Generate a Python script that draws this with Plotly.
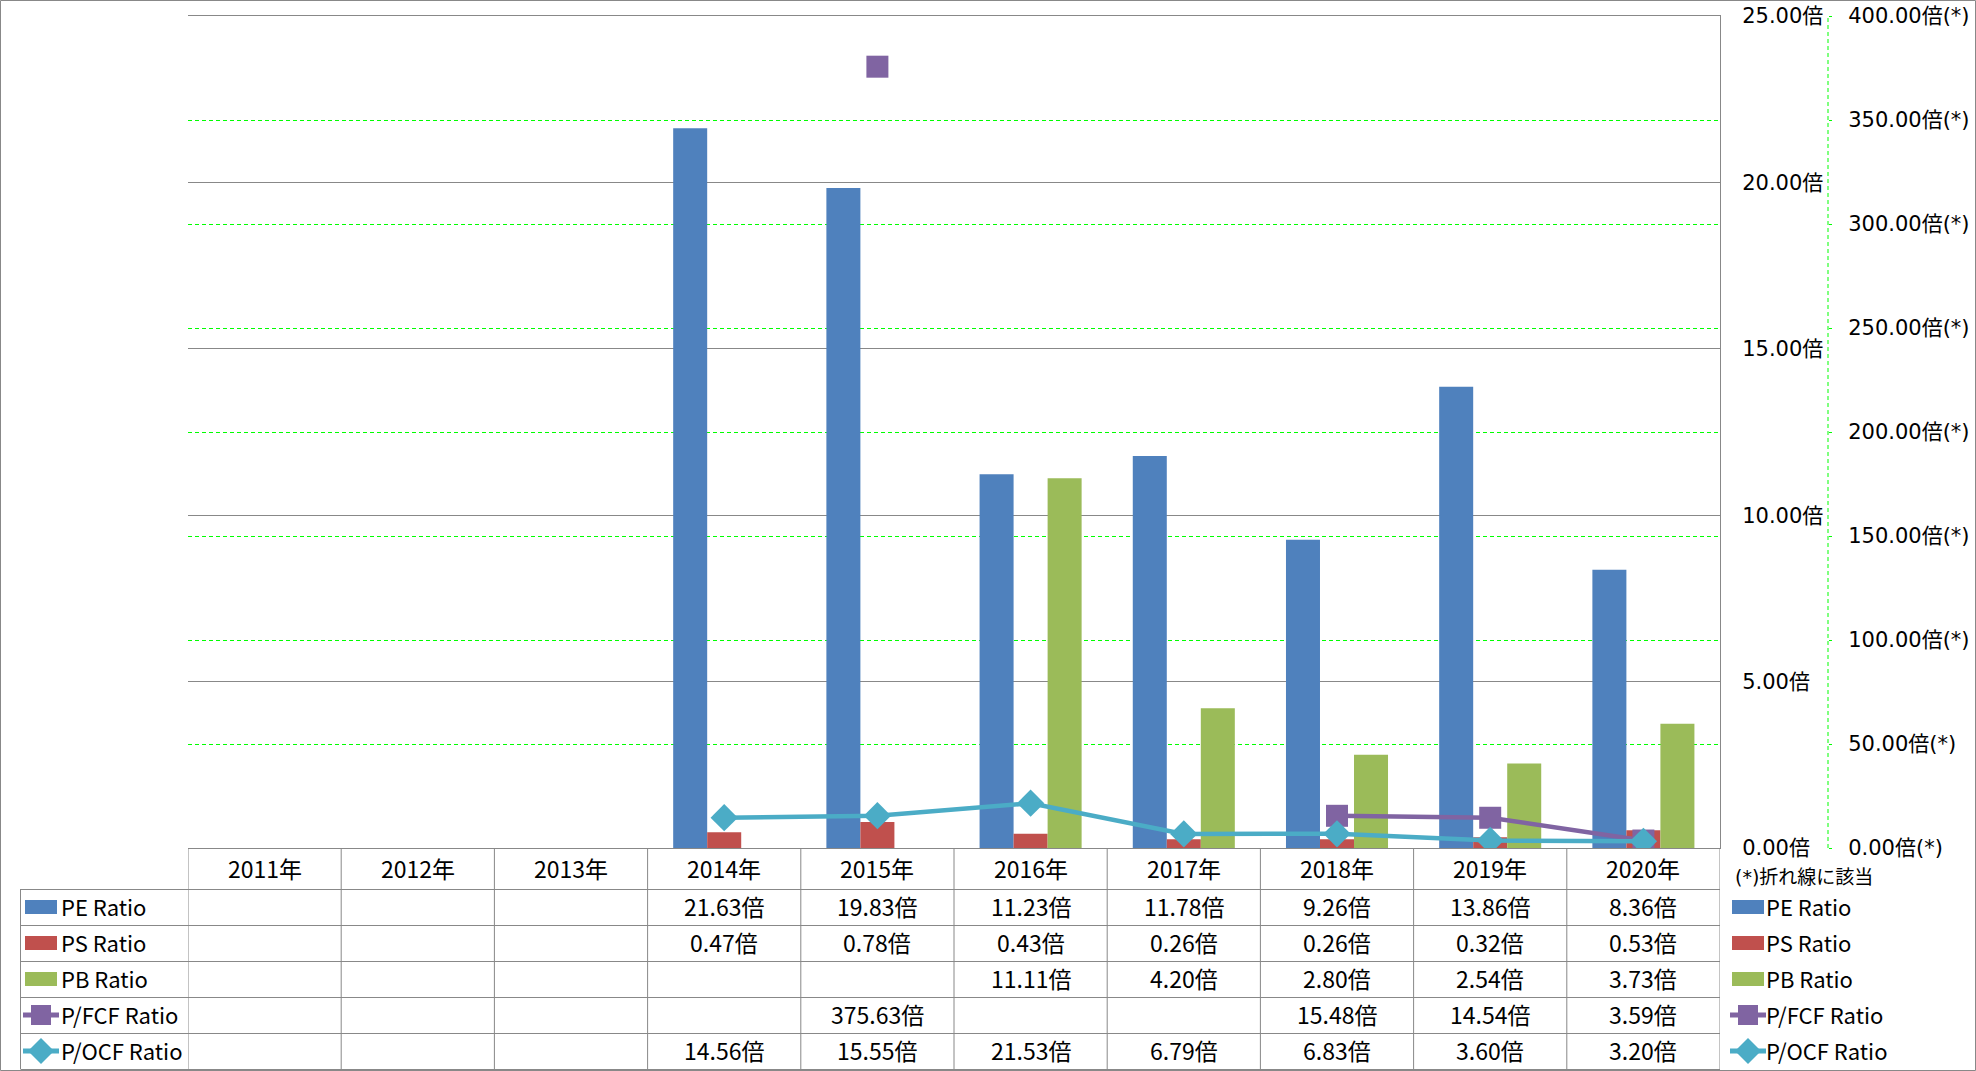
import plotly.graph_objects as go

# ---------------- data ----------------
years = ["2011年", "2012年", "2013年", "2014年", "2015年", "2016年", "2017年", "2018年", "2019年", "2020年"]
pe_ratio = [None, None, None, 21.63, 19.83, 11.23, 11.78, 9.26, 13.86, 8.36]
ps_ratio = [None, None, None, 0.47, 0.78, 0.43, 0.26, 0.26, 0.32, 0.53]
pb_ratio = [None, None, None, None, None, 11.11, 4.20, 2.80, 2.54, 3.73]
pfcf_ratio = [None, None, None, None, 375.63, None, None, 15.48, 14.54, 3.59]
pocf_ratio = [None, None, None, 14.56, 15.55, 21.53, 6.79, 6.83, 3.60, 3.20]

primary_ticks = [0, 5, 10, 15, 20, 25]
secondary_ticks = [0, 50, 100, 150, 200, 250, 300, 350, 400]
primary_ticktext = [f"{v:.2f}倍" for v in primary_ticks]
secondary_ticktext = [f"{v:.2f}倍(*)" for v in secondary_ticks]

series_names = ["PE Ratio", "PS Ratio", "PB Ratio", "P/FCF Ratio", "P/OCF Ratio"]
series_values = [pe_ratio, ps_ratio, pb_ratio, pfcf_ratio, pocf_ratio]
series_colors = ["#4F81BD", "#C0504D", "#9BBB59", "#8064A2", "#4BACC6"]
series_kind = ["bar", "bar", "bar", "square", "diamond"]
note_text = "(*)折れ線に該当"

# ---------------- layout geometry ----------------
W, H = 1976, 1071
PL, PR_PLOT, PR_AX2, PT, PB = 188, 1720, 1828, 16, 848
GRID = "#888888"
AXFONT = "DejaVu Sans, Noto Sans CJK JP, sans-serif"
TBFONT = "Noto Sans CJK JP, DejaVu Sans, sans-serif"
TBSIZE = 23
LGSIZE = 22


def px2x(px):
    return (px - PL) / (PR_AX2 - PL)


def py2y(py):
    return (PB - py) / (PB - PT)


fig = go.Figure()

for name, vals, col, kind in zip(series_names, series_values, series_colors, series_kind):
    if kind == "bar":
        fig.add_trace(go.Bar(x=years, y=vals, name=name, marker=dict(color=col, line=dict(width=0)),
                             yaxis="y", showlegend=False))
    else:
        fig.add_trace(go.Scatter(x=years, y=vals, name=name, mode="lines+markers", yaxis="y2",
                                 connectgaps=False, showlegend=False,
                                 line=dict(color=col, width=4.5),
                                 marker=dict(symbol=kind, size=22 if kind == "square" else 21, color=col,
                                             line=dict(width=0))))

shapes = []
annotations = []

# dashed secondary axis line
shapes.append(dict(type="line", xref="paper", yref="paper", x0=1, x1=1, y0=0, y1=1,
                   line=dict(color="#00FF00", width=1, dash="4px,3px")))

# table geometry
rows = [848, 889, 925, 961, 997, 1033, 1069]
LEG_L = 20.5
for i in range(len(years) + 1):
    shapes.append(dict(type="line", xref="x", yref="paper", x0=i - 0.5, x1=i - 0.5,
                       y0=py2y(rows[0]), y1=py2y(rows[-1]), line=dict(color=GRID, width=1)))
shapes.append(dict(type="line", xref="paper", yref="paper", x0=px2x(LEG_L), x1=px2x(LEG_L),
                   y0=py2y(rows[1]), y1=py2y(rows[-1]), line=dict(color=GRID, width=1)))
for r in rows[1:]:
    shapes.append(dict(type="line", xref="paper", yref="paper", x0=px2x(LEG_L), x1=px2x(PR_PLOT),
                       y0=py2y(r + 0.5), y1=py2y(r + 0.5), line=dict(color=GRID, width=1)))

# outer border
shapes.append(dict(type="rect", xref="paper", yref="paper", x0=px2x(0.5), x1=px2x(W - 0.5),
                   y0=py2y(0.5), y1=py2y(H - 0.5), line=dict(color=GRID, width=1)))

# header labels
hc = (rows[0] + rows[1]) / 2 - 1
for yr in years:
    annotations.append(dict(x=yr, xref="x", y=py2y(hc), yref="paper", text=yr, showarrow=False,
                            xanchor="center", yanchor="middle",
                            font=dict(size=TBSIZE, family=TBFONT, color="black")))

# cell values
for k, vals in enumerate(series_values):
    rc = (rows[k + 1] + rows[k + 2]) / 2 - 1
    for yr, v in zip(years, vals):
        if v is None:
            continue
        annotations.append(dict(x=yr, xref="x", y=py2y(rc), yref="paper", text=f"{v:.2f}倍",
                                showarrow=False, xanchor="center", yanchor="middle",
                                font=dict(size=TBSIZE, family=TBFONT, color="black")))


def legend_symbol(xl, xr, cy, col, kind):
    cx = (xl + xr) / 2
    if kind == "bar":
        shapes.append(dict(type="rect", xref="paper", yref="paper", x0=px2x(xl), x1=px2x(xr),
                           y0=py2y(cy - 7), y1=py2y(cy + 7), line=dict(width=0), fillcolor=col))
    else:
        shapes.append(dict(type="line", xref="paper", yref="paper", x0=px2x(xl - 2), x1=px2x(xr + 2),
                           y0=py2y(cy), y1=py2y(cy), line=dict(color=col, width=5)))
        if kind == "square":
            shapes.append(dict(type="rect", xref="paper", yref="paper", x0=px2x(cx - 10), x1=px2x(cx + 10),
                               y0=py2y(cy - 10), y1=py2y(cy + 10), line=dict(width=0), fillcolor=col))
        else:
            path = (f"M {px2x(cx - 13)} {py2y(cy)} L {px2x(cx)} {py2y(cy - 13)} "
                    f"L {px2x(cx + 13)} {py2y(cy)} L {px2x(cx)} {py2y(cy + 13)} Z")
            shapes.append(dict(type="path", xref="paper", yref="paper", path=path,
                               line=dict(width=0), fillcolor=col))


for k, (name, col, kind) in enumerate(zip(series_names, series_colors, series_kind)):
    rc = (rows[k + 1] + rows[k + 2]) / 2
    # left legend (table row headers)
    legend_symbol(25, 57, rc, col, kind)
    annotations.append(dict(x=px2x(59), xref="paper", y=py2y(rc - 1), yref="paper", text=name,
                            showarrow=False, xanchor="left", yanchor="middle",
                            font=dict(size=LGSIZE, family=TBFONT, color="black")))
    # right legend
    legend_symbol(1732, 1764, rc, col, kind)
    annotations.append(dict(x=px2x(1764), xref="paper", y=py2y(rc - 1), yref="paper", text=name,
                            showarrow=False, xanchor="left", yanchor="middle",
                            font=dict(size=LGSIZE, family=TBFONT, color="black")))

annotations.append(dict(x=px2x(1733), xref="paper", y=py2y(877), yref="paper", text=note_text,
                        showarrow=False, xanchor="left", yanchor="middle",
                        font=dict(size=19, family=AXFONT, color="black")))

fig.update_layout(
    width=W, height=H,
    margin=dict(l=PL, r=W - PR_AX2, t=PT, b=H - PB, pad=0, autoexpand=False),
    paper_bgcolor="white", plot_bgcolor="white",
    font=dict(family=AXFONT, size=20, color="black"),
    barmode="group", bargap=0.334, bargroupgap=0,
    showlegend=False,
    xaxis=dict(type="category", domain=[0, (PR_PLOT - PL) / (PR_AX2 - PL)], range=[-0.5, 9.5],
               showticklabels=False, ticks="", showgrid=False, showline=True, mirror=True,
               linecolor=GRID, linewidth=1, zeroline=False, automargin=False),
    yaxis=dict(range=[0, 25], side="right", anchor="x", tickvals=primary_ticks, ticktext=primary_ticktext,
               showgrid=True, gridcolor=GRID, gridwidth=1, showline=True, linecolor=GRID, linewidth=1,
               zeroline=False, ticks="", ticklabelstandoff=17, automargin=False,
               tickfont=dict(size=21, family=AXFONT, color="black")),
    yaxis2=dict(range=[0, 400], overlaying="y", side="right", anchor="free", position=1.0,
                tickvals=secondary_ticks, ticktext=secondary_ticktext,
                showgrid=True, gridcolor="#00FF00", gridwidth=1, griddash="4px,3px",
                showline=False, zeroline=False, ticks="outside", ticklen=3, tickcolor="#00FF00",
                ticklabelstandoff=12, automargin=False,
                tickfont=dict(size=21, family=AXFONT, color="black")),
    shapes=shapes,
    annotations=annotations,
)

fig.write_html("out.html", config={"displayModeBar": False},
               post_script="document.body.style.margin='0';document.body.style.overflow='hidden';")
